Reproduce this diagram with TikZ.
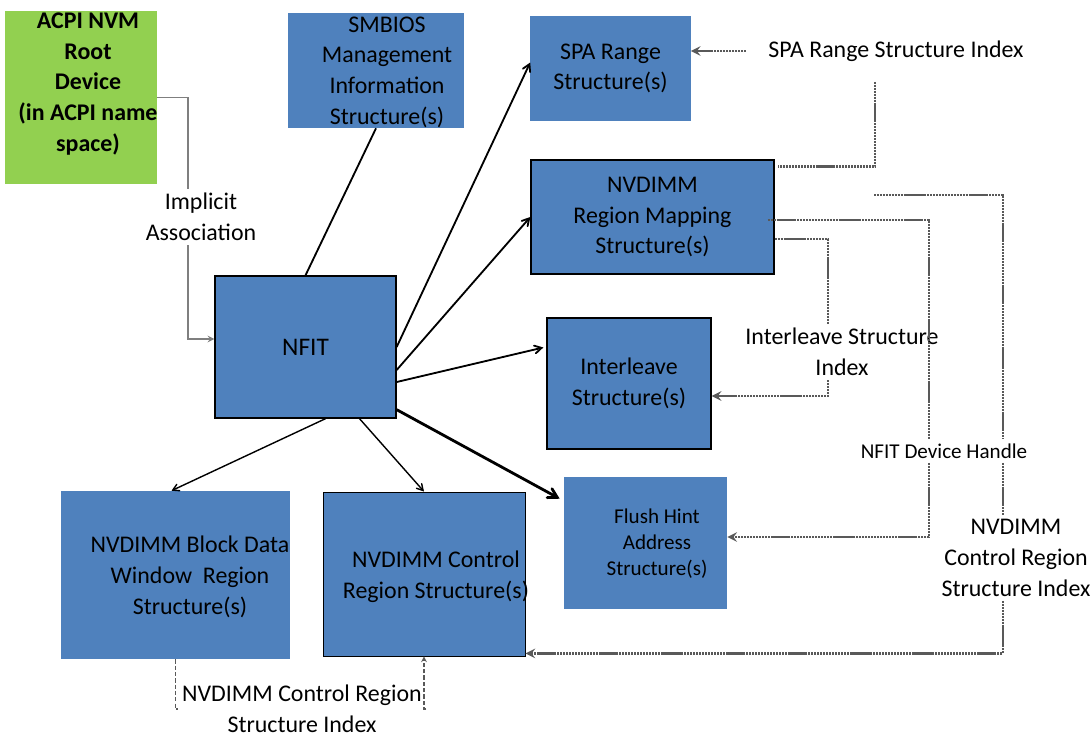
\documentclass[tikz,border=0pt]{standalone}
\usepackage{fontspec}
\setmainfont{Carlito}
\usepackage{tikz}
\usetikzlibrary{arrows, positioning}
\definecolor{structblue}{HTML}{4F81BD}
\definecolor{rootgreen}{HTML}{92D050}
\definecolor{linkgray}{HTML}{7F7F7F}
\definecolor{indexgray}{HTML}{595959}
\tikzstyle{structure} = [rectangle, fill=structblue, align=center, inner sep=0pt]
\tikzstyle{root} = [rectangle, fill=rootgreen, inner sep=0pt]
\tikzstyle{framed} = [draw=black, line width=0.9pt]
\tikzstyle{caption} = [align=center, inner sep=0pt]
\tikzstyle{indexlabel} = [align=center, inner sep=3pt]
\tikzstyle{small} = [font=\fontsize{15}{18.4}\selectfont]
\tikzstyle{arrow} = [line width=1.3pt, ->, >=angle 60]
\tikzstyle{plain} = [line width=1.3pt]
\tikzstyle{link} = [draw=linkgray, line width=1.1pt]
\tikzstyle{index} = [draw=indexgray, line width=2pt, dash pattern=on 1.6pt off 0.5pt]
\tikzstyle{thinindex} = [draw=indexgray, line width=0.8pt, dash pattern=on 3pt off 1.5pt]

\begin{document}
\begin{tikzpicture}[x=0.025cm, y=-0.025cm, every node/.style={font=\fontsize{17}{21.8}\selectfont}]
\useasboundingbox (0,0) rectangle (1092,742);

% structures
\node (acpi) [root, minimum width=3.8cm, minimum height=4.325cm] at (81,97.5) {};
\node (acpitext) [caption, font=\fontsize{17}{21.8}\selectfont\bfseries] at (88,84) {ACPI NVM\\Root\\Device\\(in ACPI name\\space)};
\node (smbios) [structure, minimum width=4.4cm, minimum height=2.875cm] at (376,70.5) {};
\node (smbiostext) [caption] at (387,72) {SMBIOS\\Management\\Information\\Structure(s)};
\node (spa) [structure, minimum width=4cm, minimum height=2.625cm] at (610.5,68.5) {SPA Range\\Structure(s)};
\node (rm) [structure, framed, minimum width=6.075cm, minimum height=2.85cm] at (652.5,217) {NVDIMM\\Region Mapping\\Structure(s)};
\node (il) [structure, framed, minimum width=4.1cm, minimum height=3.275cm] at (629,383.5) {Interleave\\Structure(s)};
\node (nfit) [structure, framed, minimum width=4.525cm, minimum height=3.55cm, font=\fontsize{18}{22}\selectfont] at (305.5,347) {NFIT};
\node (flush) [structure, minimum width=4.075cm, minimum height=3.3cm] at (645.5,543) {};
\node (flushtext) [caption, small] at (657,544) {Flush Hint\\Address\\Structure(s)};
\node (block) [structure, minimum width=5.725cm, minimum height=4.2cm] at (175.5,575) {};
\node (blocktext) [caption] at (190,577) {NVDIMM Block Data\\Window\ \ Region\\Structure(s)};
\node (ctrl) [structure, draw=black, line width=0.6pt, minimum width=5.05cm, minimum height=4.1cm] at (424,574) {};
\node (ctrltext) [caption] at (436,577) {NVDIMM Control\\Region Structure(s)};

% index labels
\node (assoc) [indexlabel] at (201,217) {Implicit\\Association};
\node (spaidx) [indexlabel] at (896,51) {SPA Range Structure Index};
\node (ilidx) [indexlabel] at (842,352) {Interleave Structure\\Index};
\node (devidx) [indexlabel, small] at (944,451) {NFIT Device Handle};
\node (ctrlidx) [indexlabel] at (1016,558) {NVDIMM\\Control Region\\Structure Index};
\node (bidx) [indexlabel] at (302,709) {NVDIMM Control Region\\Structure Index};
\coordinate (handle) at (874,195);

\draw [link] (acpi.east) -| (188,0 |- assoc.north);
\draw [link, -stealth] (188,0 |- assoc.south) |- ([yshift=0.2cm]nfit.west);

\draw [plain] (nfit.north) -- (smbios.south);
\draw [arrow] (nfit.east) -- ([yshift=0.15cm]spa.west);
\draw [arrow] ([yshift=-0.575cm]nfit.east) -- (rm.west);
\draw [arrow] ([yshift=-0.875cm]nfit.east) -- ([xshift=-0.075cm, yshift=0.9cm]il.west);
\draw [arrow, line width=2pt] ([yshift=0.225cm]nfit.south east) -- ([xshift=-0.1cm, yshift=-0.55cm]flush.north west);
\draw [arrow, line width=1pt] ([xshift=0.5cm]nfit.south) -- ([xshift=-0.1cm]block.north);
\draw [arrow, line width=1pt] ([xshift=1.35cm]nfit.south) -- (ctrl.north);

\draw [index, -stealth] ([xshift=-0.45cm]spaidx.west) -- (spa.east |- spaidx.west);
\draw [index] ([xshift=-0.525cm, yshift=-0.4cm]spaidx.south) |- ([xshift=0.075cm, yshift=-0.175cm]rm.north east);
\draw [index] ([yshift=-0.55cm]rm.east) -| (828,0 |- ilidx.north);
\draw [index, -stealth] (828,0 |- ilidx.south) |- ([yshift=-0.3125cm]il.east);
\draw [index] ([xshift=-0.175cm, yshift=-0.075cm]rm.east) -| (929,0 |- devidx.north);
\draw [index, -stealth] (929,0 |- devidx.south) |- ([yshift=0.15cm]flush.east);
\draw [index] (handle) -| (1003,0 |- devidx.north);
\draw [index] (1003,0 |- devidx.south) -- (1003,0 |- ctrlidx.north);
\draw [index, -stealth] (1003,0 |- ctrlidx.south) |- ([yshift=0.075cm]ctrl.south east);
\draw [thinindex] (block.south) |- (bidx.west);
\draw [thinindex, -stealth] (bidx.east) -| (ctrl.south);

\end{tikzpicture}
\end{document}
